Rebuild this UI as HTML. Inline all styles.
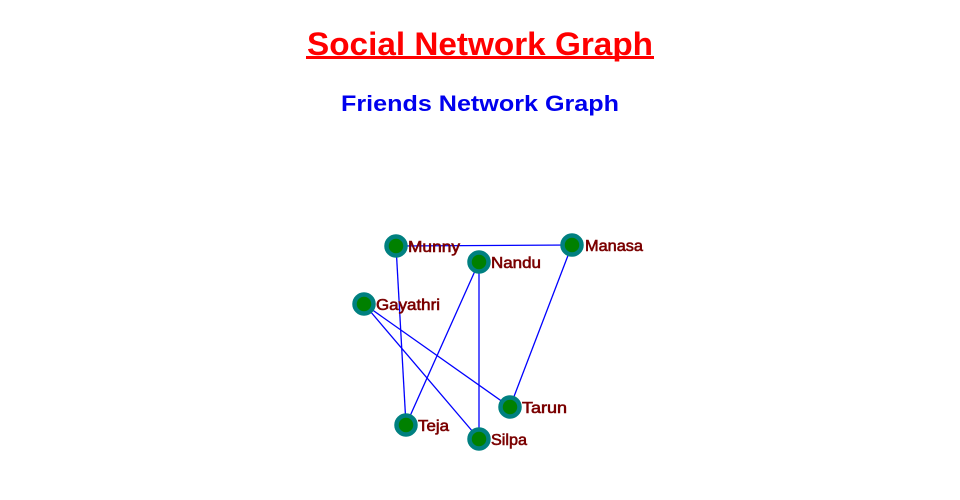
<!DOCTYPE html>
<html><head><meta charset="utf-8"><style>
html,body{margin:0;padding:0;background:#fff;width:960px;height:500px;overflow:hidden}
svg text{font-family:"Liberation Sans",Arial,sans-serif}
</style></head><body>
<svg width="960" height="500" viewBox="0 0 960 500" xmlns="http://www.w3.org/2000/svg">
<text x="480" y="55" text-anchor="middle" font-size="32" font-weight="bold" fill="#ff0000" textLength="346" lengthAdjust="spacingAndGlyphs">Social Network Graph</text>
<rect x="306" y="56" width="348" height="3" fill="#ff0000"/>
<text x="480" y="111" text-anchor="middle" font-size="22" font-weight="bold" fill="#0000ee" textLength="278" lengthAdjust="spacingAndGlyphs">Friends Network Graph</text>
<g stroke="#0000ff" stroke-width="1.3">
<line x1="396" y1="246" x2="572" y2="245"/>
<line x1="396" y1="246" x2="406" y2="425"/>
<line x1="479" y1="262" x2="406" y2="425"/>
<line x1="479" y1="262" x2="479" y2="439"/>
<line x1="364" y1="304" x2="510" y2="407"/>
<line x1="364" y1="304" x2="479" y2="439"/>
<line x1="572" y1="245" x2="510" y2="407"/>
</g>
<g fill="#008000" stroke="#008080" stroke-width="4.5">
<circle cx="396" cy="246" r="9.5"/>
<circle cx="572" cy="245" r="9.5"/>
<circle cx="479" cy="262" r="9.5"/>
<circle cx="364" cy="304" r="9.5"/>
<circle cx="510" cy="407" r="9.5"/>
<circle cx="406" cy="425" r="9.5"/>
<circle cx="479" cy="439" r="9.5"/>
</g>
<g font-size="16" fill="#7a0000" stroke="#7a0000" stroke-width="0.6">
<text x="408" y="252" textLength="52" lengthAdjust="spacingAndGlyphs">Munny</text>
<text x="585" y="251" textLength="58" lengthAdjust="spacingAndGlyphs">Manasa</text>
<text x="491" y="268" textLength="50" lengthAdjust="spacingAndGlyphs">Nandu</text>
<text x="376" y="310" textLength="64" lengthAdjust="spacingAndGlyphs">Gayathri</text>
<text x="522" y="413" textLength="45" lengthAdjust="spacingAndGlyphs">Tarun</text>
<text x="418" y="431" textLength="31" lengthAdjust="spacingAndGlyphs">Teja</text>
<text x="491" y="445" textLength="36" lengthAdjust="spacingAndGlyphs">Silpa</text>
</g>
</svg>
</body></html>
